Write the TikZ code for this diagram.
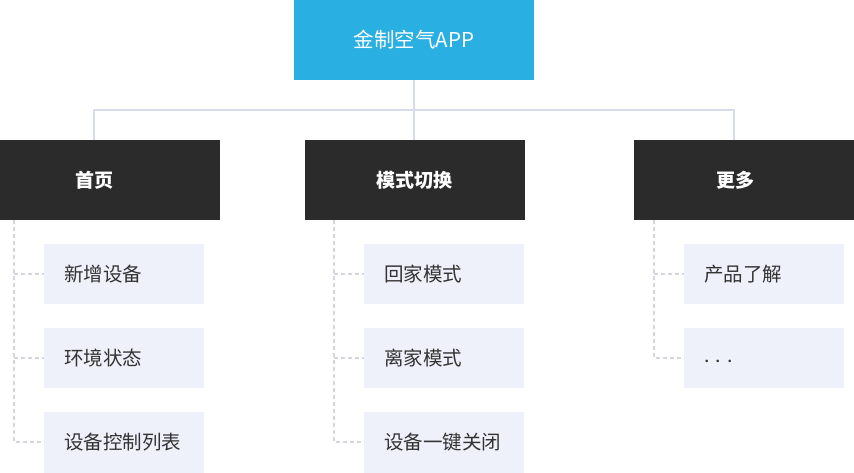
\documentclass[tikz,border=0pt]{standalone}
\usepackage{fontspec}
\setmainfont{Noto Sans CJK SC}
\usetikzlibrary{positioning}
\definecolor{topblue}{HTML}{2AAFE3}
\definecolor{darkbox}{HTML}{2B2B2B}
\definecolor{lightbox}{HTML}{EEF1FA}
\definecolor{linecol}{HTML}{D8DCE8}
\definecolor{dashcol}{HTML}{D3D6DE}
\definecolor{txt}{HTML}{333333}
\begin{document}
\begin{tikzpicture}[x=1pt,y=-1pt,
  cattext/.style={text=white,font=\fontsize{19}{22}\selectfont\bfseries},
  itemtext/.style={text=txt,font=\fontsize{19.5}{22}\selectfont,anchor=west,inner sep=0pt},
  solidline/.style={draw=linecol,line width=2pt},
  dashline/.style={draw=dashcol,line width=1.2pt,dash pattern=on 4pt off 3pt}]
\useasboundingbox (0,0) rectangle (854,473);
% top
\fill[topblue] (294,0) rectangle (534,80);
\node[text=white,font=\fontsize{20.5}{24}\selectfont] (app) at (414,40) {金制空气APP};
\coordinate (appb) at (414,80);
% categories
\fill[darkbox] (0,140) rectangle (220,220);
\fill[darkbox] (305,140) rectangle (525,220);
\fill[darkbox] (634,140) rectangle (854,220);
\node[cattext] (c1) at (94,180) {首页};
\node[cattext] (c2) at (414,180) {模式切换};
\node[cattext] (c3) at (735,180) {更多};
\coordinate (c1t) at (94,140);
\coordinate (c2t) at (414,140);
\coordinate (c3t) at (734,140);
\coordinate (hj) at (414,110);
\draw[solidline] (appb) -- (c2t);
\draw[solidline] (c1t) |- (hj) -| (c3t);
% items
\foreach \x in {44,364,684}{
  \fill[lightbox] (\x,244) rectangle ++(160,60);
  \fill[lightbox] (\x,328) rectangle ++(160,60);
}
\fill[lightbox] (44,412) rectangle ++(160,61);
\fill[lightbox] (364,412) rectangle ++(160,61);
\node[itemtext] (a1) at (64,274) {新增设备};
\node[itemtext] (a2) at (64,358) {环境状态};
\node[itemtext] (a3) at (64,442) {设备控制列表};
\node[itemtext] (b1) at (384,274) {回家模式};
\node[itemtext] (b2) at (384,358) {离家模式};
\node[itemtext] (b3) at (384,442) {设备一键关闭};
\node[itemtext] (d1) at (704,274) {产品了解};
\node[itemtext] (d2) at (704,361) {.\hspace{6pt}.\hspace{6pt}.};
% dashed connectors
\coordinate (a0) at (14,220);
\coordinate (b0) at (334,220);
\coordinate (d0) at (654,220);
\coordinate (aa1) at (44,274);
\coordinate (aa2) at (44,358);
\coordinate (aa3) at (44,442);
\coordinate (bb1) at (364,274);
\coordinate (bb2) at (364,358);
\coordinate (bb3) at (364,442);
\coordinate (dd1) at (684,274);
\coordinate (dd2) at (684,358);
\draw[dashline] (a0) |- (aa3);
\draw[dashline] (14,274) -- (aa1);
\draw[dashline] (14,358) -- (aa2);
\draw[dashline] (b0) |- (bb3);
\draw[dashline] (334,274) -- (bb1);
\draw[dashline] (334,358) -- (bb2);
\draw[dashline] (d0) |- (dd2);
\draw[dashline] (654,274) -- (dd1);
\end{tikzpicture}
\end{document}
